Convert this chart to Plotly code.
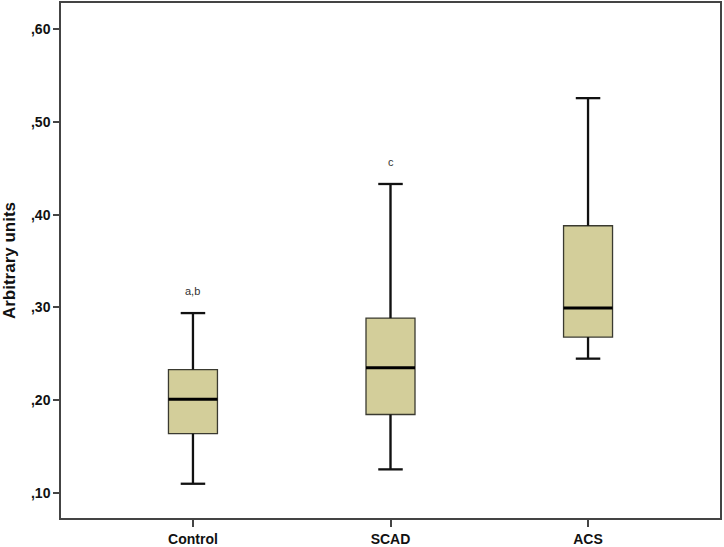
import plotly.graph_objects as go

groups = ["Control", "SCAD", "ACS"]
lower = [0.110, 0.1255, 0.2448]
q1 = [0.164, 0.1846, 0.268]
median = [0.201, 0.235, 0.2993]
q3 = [0.233, 0.2885, 0.388]
upper = [0.2939, 0.433, 0.5255]
labels = ["a,b", "c", ""]
ytick_vals = [0.10, 0.20, 0.30, 0.40, 0.50, 0.60]
ytick_text = [",10", ",20", ",30", ",40", ",50", ",60"]

xpos = list(range(len(groups)))
box_w = 0.248
cap = 0.062

fig = go.Figure()
fig.add_trace(go.Box(
    x=xpos, q1=q1, median=median, q3=q3, lowerfence=lower, upperfence=upper,
    width=box_w, whiskerwidth=0.0,
    fillcolor="rgb(211,206,154)", line=dict(color="#3a3a30", width=1.3),
    boxpoints=False, showlegend=False, hoverinfo="skip",
))

for i in xpos:
    fig.add_trace(go.Scatter(x=[i, i], y=[q3[i], upper[i]], mode="lines",
                             line=dict(color="#111", width=2.3), showlegend=False, hoverinfo="skip"))
    fig.add_trace(go.Scatter(x=[i, i], y=[lower[i], q1[i]], mode="lines",
                             line=dict(color="#111", width=2.3), showlegend=False, hoverinfo="skip"))
    for v in (lower[i], upper[i]):
        fig.add_trace(go.Scatter(x=[i - cap, i + cap], y=[v, v], mode="lines",
                                 line=dict(color="#111", width=2.3), showlegend=False, hoverinfo="skip"))
    fig.add_trace(go.Scatter(x=[i - box_w / 2, i + box_w / 2], y=[median[i], median[i]], mode="lines",
                             line=dict(color="#000", width=3), showlegend=False, hoverinfo="skip"))
    if labels[i]:
        fig.add_annotation(x=i, y=upper[i] + 0.024, text=labels[i], showarrow=False,
                           font=dict(family="Liberation Sans", size=11, color="#333"))

fig.update_layout(
    width=724, height=547,
    margin=dict(l=61, r=4, t=3, b=29),
    plot_bgcolor="white", paper_bgcolor="white",
    font=dict(family="Liberation Sans", color="#111"),
)
fig.update_xaxes(
    range=[-0.668, 2.668], tickvals=xpos, ticktext=groups, automargin=False,
    tickfont=dict(size=14, weight="bold", family="Liberation Sans", color="#111"),
    showgrid=False, zeroline=False, showline=True, linecolor="#444", linewidth=1.5, mirror=True,
    ticks="outside", ticklen=7, tickwidth=1.5, tickcolor="#444", ticklabelstandoff=0,
)
fig.update_yaxes(
    range=[0.0731, 0.628], tickvals=ytick_vals, ticktext=ytick_text, automargin=False,
    tickfont=dict(size=14, weight="bold", family="Liberation Sans", color="#111"),
    showgrid=False, zeroline=False, showline=True, linecolor="#444", linewidth=1.5, mirror=True,
    ticks="outside", ticklen=6, tickwidth=1.5, tickcolor="#444",
    title=dict(text="Arbitrary units", font=dict(size=17, weight="bold", family="Liberation Sans", color="#111"), standoff=12),
)

fig.write_html("out.html", config={"displayModeBar": False},
               post_script="document.body.style.margin='0';document.body.style.overflow='hidden';")
